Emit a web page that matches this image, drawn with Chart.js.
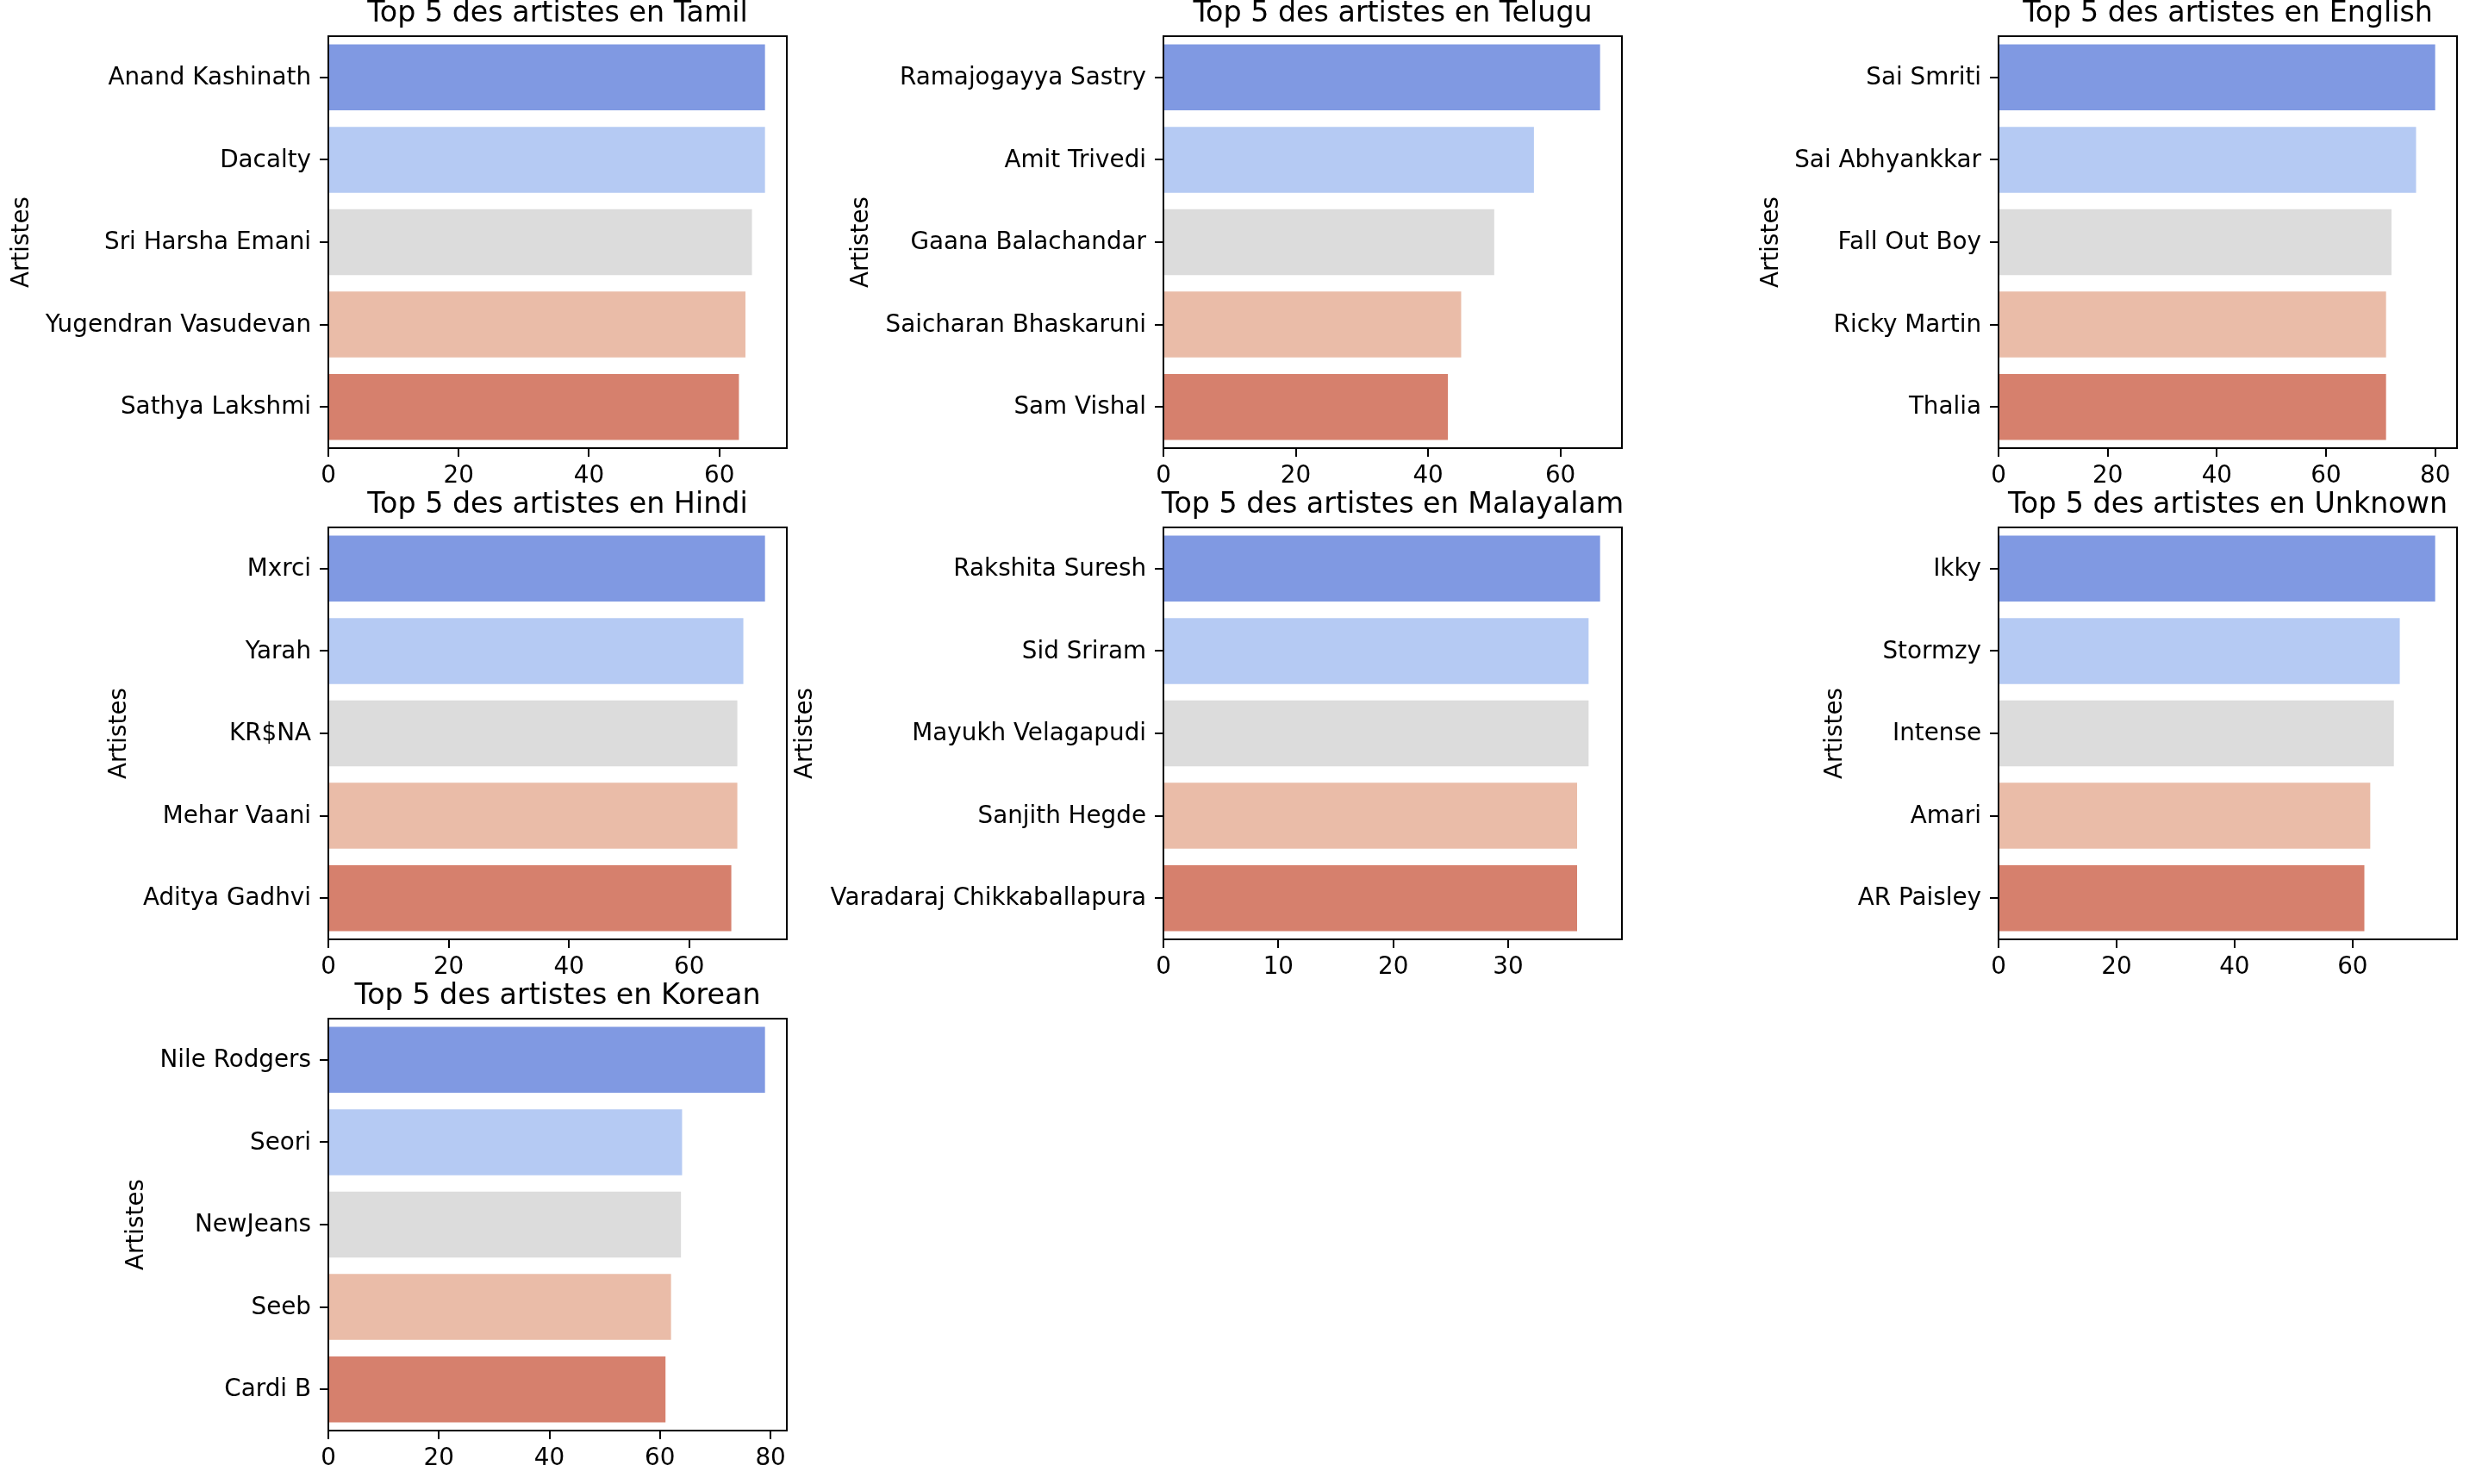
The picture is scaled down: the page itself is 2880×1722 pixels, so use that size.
<!DOCTYPE html>
<html>
  <head>
    <meta charset="UTF-8" />
    <title>Top 5 des artistes par langue</title>
    <script src="https://cdn.jsdelivr.net/npm/chart.js"></script>
    <style>
      html, body {
        margin: 0;
        padding: 0;
        background: #fff;
        width: 2880px;
        height: 1722px;
        overflow: hidden;
        position: relative;
      }
      canvas {
        position: absolute;
      }
    </style>
  </head>
  <body>
    <script>
      // Données (une paire de listes par langue)
      const langues = ['Tamil', 'Telugu', 'English', 'Hindi', 'Malayalam', 'Unknown', 'Korean'];

      const artistesTamil = ['Anand Kashinath', 'Dacalty', 'Sri Harsha Emani', 'Yugendran Vasudevan', 'Sathya Lakshmi'];
      const valeursTamil = [67, 67, 65, 64, 63];

      const artistesTelugu = ['Ramajogayya Sastry', 'Amit Trivedi', 'Gaana Balachandar', 'Saicharan Bhaskaruni', 'Sam Vishal'];
      const valeursTelugu = [66, 56, 50, 45, 43];

      const artistesEnglish = ['Sai Smriti', 'Sai Abhyankkar', 'Fall Out Boy', 'Ricky Martin', 'Thalia'];
      const valeursEnglish = [80, 76.5, 72, 71, 71];

      const artistesHindi = ['Mxrci', 'Yarah', 'KR$NA', 'Mehar Vaani', 'Aditya Gadhvi'];
      const valeursHindi = [72.6, 69, 68, 68, 67];

      const artistesMalayalam = ['Rakshita Suresh', 'Sid Sriram', 'Mayukh Velagapudi', 'Sanjith Hegde', 'Varadaraj Chikkaballapura'];
      const valeursMalayalam = [38, 37, 37, 36, 36];

      const artistesUnknown = ['Ikky', 'Stormzy', 'Intense', 'Amari', 'AR Paisley'];
      const valeursUnknown = [74, 68, 67, 63, 62];

      const artistesKorean = ['Nile Rodgers', 'Seori', 'NewJeans', 'Seeb', 'Cardi B'];
      const valeursKorean = [79, 64, 63.8, 62, 61];

      const pas = [20, 20, 20, 20, 10, 20, 20];

      // palette coolwarm (désaturée comme seaborn)
      const couleurs = ['#8099e2', '#b5caf3', '#dcdcdc', '#eabca8', '#d6806d'];

      // position des axes dans la page
      const AXE_L = 532;
      const AXE_H = 478;
      const cases = [
        { left: 381, top: 42, yw: 372 },
        { left: 1350, top: 42, yw: 367 },
        { left: 2319, top: 42, yw: 280 },
        { left: 381, top: 612, yw: 259 },
        { left: 1350, top: 612, yw: 432 },
        { left: 2319, top: 612, yw: 206 },
        { left: 381, top: 1182, yw: 239 }
      ];

      const panneaux = [
        [artistesTamil, valeursTamil],
        [artistesTelugu, valeursTelugu],
        [artistesEnglish, valeursEnglish],
        [artistesHindi, valeursHindi],
        [artistesMalayalam, valeursMalayalam],
        [artistesUnknown, valeursUnknown],
        [artistesKorean, valeursKorean]
      ];

      Chart.defaults.font.family = "'DejaVu Sans', sans-serif";
      Chart.defaults.color = '#000';

      // cadre noir autour de la zone du graphique
      const cadre = {
        id: 'cadre',
        afterDatasetsDraw(chart) {
          const { ctx, chartArea: a } = chart;
          ctx.save();
          ctx.strokeStyle = '#000';
          ctx.lineWidth = 2;
          ctx.strokeRect(a.left, a.top, a.right - a.left, a.bottom - a.top);
          ctx.restore();
        }
      };

      // titre centré sur les axes
      const titreAxes = {
        id: 'titreAxes',
        afterDraw(chart, args, opts) {
          const { ctx, chartArea: a } = chart;
          ctx.save();
          ctx.font = "33.3px 'DejaVu Sans'";
          ctx.fillStyle = '#000';
          ctx.textAlign = 'center';
          ctx.textBaseline = 'alphabetic';
          ctx.fillText(opts.text, (a.left + a.right) / 2, a.top - 17);
          ctx.restore();
        }
      };

      panneaux.forEach(([artistes, valeurs], i) => {
        const c = cases[i];
        const canvas = document.createElement('canvas');
        const w = c.yw + AXE_L + 40;
        const h = 50 + AXE_H + 60;
        canvas.width = w;
        canvas.height = h;
        canvas.style.left = (c.left - c.yw) + 'px';
        canvas.style.top = (c.top - 50) + 'px';
        canvas.style.width = w + 'px';
        canvas.style.height = h + 'px';
        document.body.appendChild(canvas);

        new Chart(canvas.getContext('2d'), {
          type: 'bar',
          data: {
            labels: artistes,
            datasets: [{
              data: valeurs,
              backgroundColor: couleurs,
              borderWidth: 0,
              barPercentage: 0.8,
              categoryPercentage: 1
            }]
          },
          options: {
            indexAxis: 'y',
            responsive: false,
            animation: false,
            devicePixelRatio: 1,
            layout: { padding: { top: 50, right: 40, bottom: 0, left: 0 } },
            plugins: {
              legend: { display: false },
              tooltip: { enabled: false },
              titreAxes: { text: 'Top 5 des artistes en ' + langues[i] }
            },
            scales: {
              x: {
                type: 'linear',
                min: 0,
                max: Math.max(...valeurs) * 1.05,
                ticks: {
                  stepSize: pas[i],
                  includeBounds: false,
                  color: '#000',
                  font: { size: 27.8 },
                  padding: 6,
                  maxRotation: 0
                },
                afterBuildTicks: s => {
                  // seulement les multiples du pas, comme matplotlib
                  s.ticks = s.ticks.filter(t => t.value % pas[i] === 0);
                },
                grid: { drawOnChartArea: false, tickLength: 10, color: '#000', lineWidth: 2 },
                border: { display: false },
                afterFit: s => { s.height = 60; }
              },
              y: {
                ticks: { color: '#000', font: { size: 27.8 }, padding: 10, autoSkip: false, labelOffset: 1 },
                grid: { drawOnChartArea: false, offset: false, tickLength: 10, color: '#000', lineWidth: 2 },
                border: { display: false },
                title: {
                  display: true,
                  text: 'Artistes',
                  color: '#000',
                  font: { size: 27.8 },
                  padding: 0
                },
                afterFit: s => { s.width = c.yw; }
              }
            }
          },
          plugins: [cadre, titreAxes]
        });
      });
    </script>
  </body>
</html>
